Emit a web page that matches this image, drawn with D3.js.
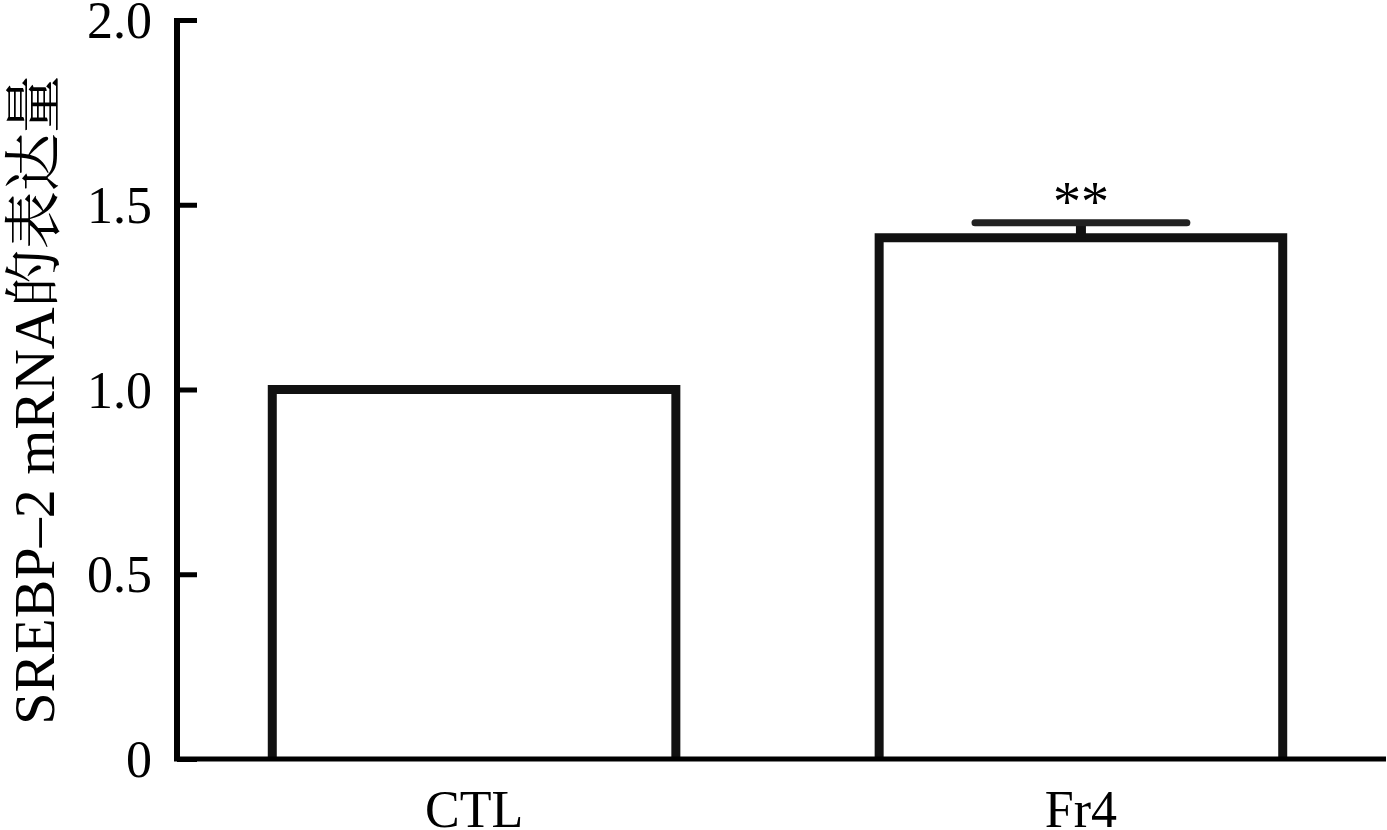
<!DOCTYPE html>
<html><head><meta charset="utf-8">
<script src="https://cdn.jsdelivr.net/npm/d3@7"></script>
<style>body{margin:0;background:#fff}svg{display:block}</style>
</head><body>
<svg id="c" width="1387" height="830"></svg>
<script>
const categories = ["CTL", "Fr4"];
const values = [1.0, 1.411];
const errors = [0, 0.04];
const sigLabels = ["", "**"];
const yTicks = [0, 0.5, 1.0, 1.5, 2.0];
const yTickLabels = ["0", "0.5", "1.0", "1.5", "2.0"];
const yTitle = "SREBP\u20132 mRNA的表达量";

const svg = d3.select("#c");
const font = "'Liberation Serif','Times New Roman','Noto Serif CJK SC','Noto Sans CJK SC',serif";
const axisX = 177, axisY = 759;
const y = d3.scaleLinear().domain([0, 2]).range([axisY, 20]);
const x = d3.scaleBand().domain(categories).range([axisX, 1378]).paddingInner(0.335).paddingOuter(0.157);

// bars (open at bottom; the x axis closes them)
svg.selectAll("path.bar").data(categories).join("path").attr("class","bar")
  .attr("d", (d,i) => {
    const x0 = x(d), x1 = x(d) + x.bandwidth(), yt = y(values[i]);
    return `M${x0},${axisY}V${yt}H${x1}V${axisY}`;
  })
  .attr("fill", "#fff").attr("stroke", "#111").attr("stroke-width", 9)
  .attr("stroke-linejoin", "miter");

// error bars
categories.forEach((c, i) => {
  if (!errors[i]) return;
  const cx = x(c) + x.bandwidth()/2;
  const cw = x.bandwidth() * 0.525;
  svg.append("line").attr("x1", cx).attr("x2", cx)
    .attr("y1", y(values[i])).attr("y2", y(values[i] + errors[i]))
    .attr("stroke", "#111").attr("stroke-width", 10);
  svg.append("line").attr("x1", cx - cw/2).attr("x2", cx + cw/2)
    .attr("y1", y(values[i] + errors[i])).attr("y2", y(values[i] + errors[i]))
    .attr("stroke", "#222").attr("stroke-width", 7).attr("stroke-linecap", "round");
  svg.append("text").attr("x", cx).attr("y", y(values[i] + errors[i]) - 2)
    .attr("text-anchor", "middle").attr("font-family", font).attr("font-size", 56)
    .attr("fill", "#000").text(sigLabels[i]);
});

// y axis
const yAxis = d3.axisRight(y).tickValues(yTicks).tickSize(20).tickFormat("");
const gy = svg.append("g").attr("transform", `translate(${axisX},0)`).call(yAxis);
gy.select(".domain").attr("d", `M0,${axisY}V18`).attr("stroke", "#000").attr("stroke-width", 6);
gy.selectAll(".tick line").attr("stroke", "#000").attr("stroke-width", 5);

svg.selectAll("text.ytl").data(yTicks).join("text").attr("class","ytl")
  .attr("x", 152).attr("y", d => y(d) + 18)
  .attr("text-anchor", "end").attr("font-family", font).attr("font-size", 52)
  .attr("fill", "#000").text((d,i) => yTickLabels[i]);

// x axis
const xAxis = d3.axisBottom(x).tickSize(0).tickFormat("");
const gx = svg.append("g").attr("transform", `translate(0,${axisY})`).call(xAxis);
gx.select(".domain").attr("d", `M${axisX-3},0H1386`).attr("stroke", "#000").attr("stroke-width", 5);

svg.selectAll("text.xtl").data(categories).join("text").attr("class","xtl")
  .attr("x", d => x(d) + x.bandwidth()/2).attr("y", 827)
  .attr("text-anchor", "middle").attr("font-family", font).attr("font-size", 52)
  .attr("fill", "#000").text(d => d);

// y title
svg.append("text").attr("transform", "translate(54,400) rotate(-90)")
  .attr("text-anchor", "middle").attr("font-family", font).attr("font-size", 58)
  .attr("fill", "#000").text(yTitle);
</script>
</body></html>
